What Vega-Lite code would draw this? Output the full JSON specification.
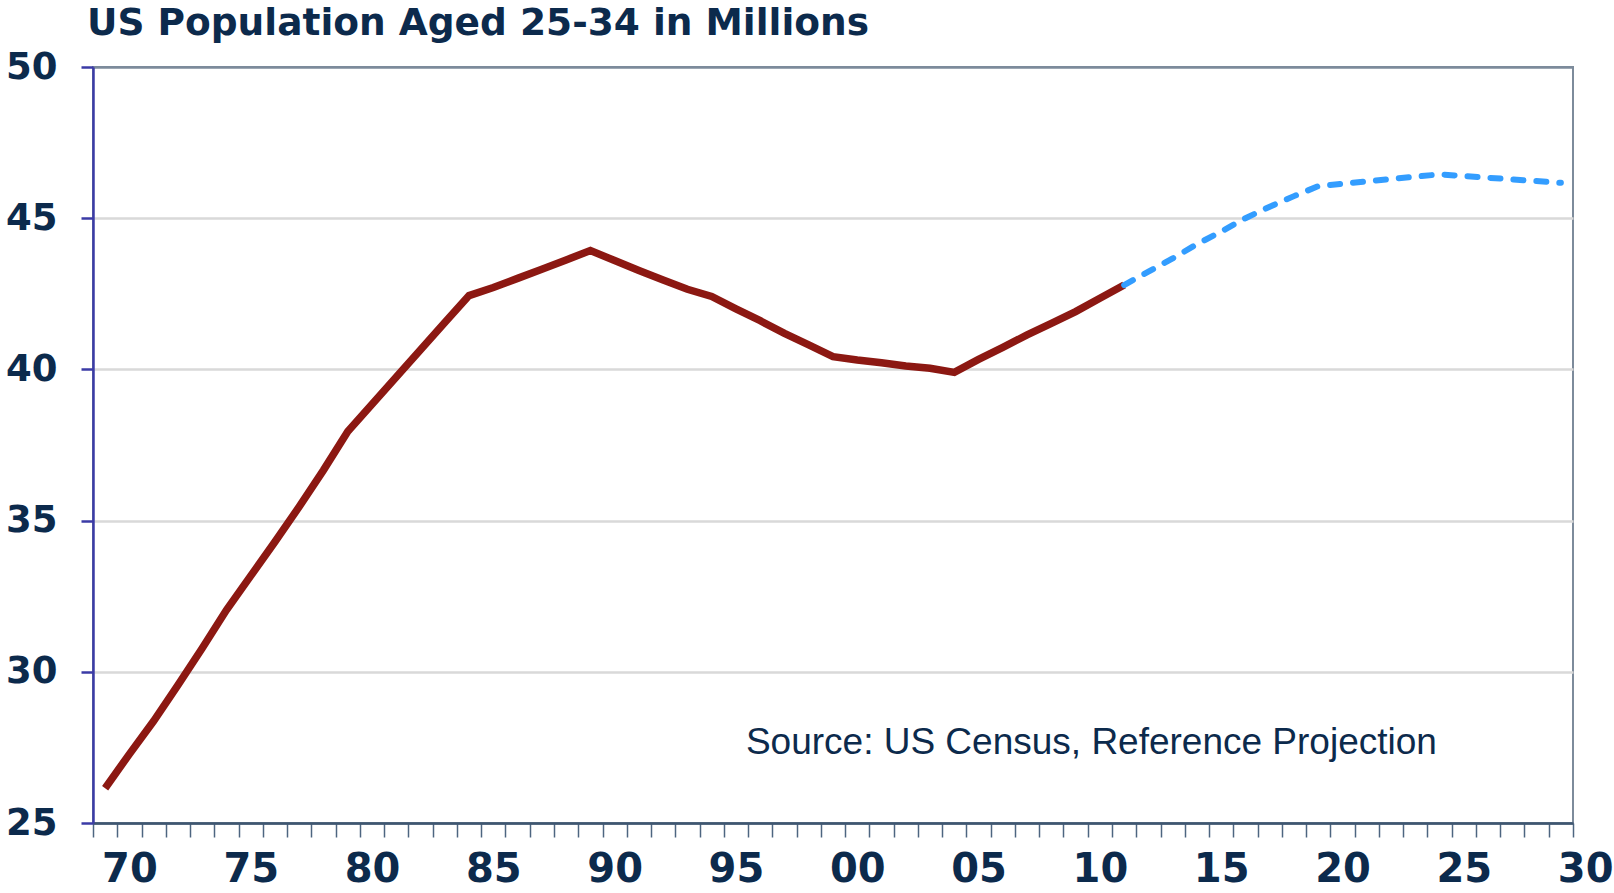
{
  "$schema": "https://vega.github.io/schema/vega-lite/v6.json",
  "width": 1480,
  "height": 756,
  "autosize": {"type": "none"},
  "padding": {"left": 93, "top": 67, "right": 41, "bottom": 70},
  "background": "white",
  "title": {
    "text": "US Population Aged 25-34 in Millions",
    "anchor": "start",
    "frame": "group",
    "font": "DejaVu Sans",
    "fontSize": 37.5,
    "fontWeight": "bold",
    "color": "#0c2a4c",
    "baseline": "alphabetic",
    "dx": -6,
    "offset": -24
  },
  "config": {
    "view": {"stroke": "#7d8b9b", "strokeWidth": 2}
  },
  "datasets": {
    "pop": [
      {"year": 1969, "value": 26.15, "series": "Actual"},
      {"year": 1970, "value": 27.28, "series": "Actual"},
      {"year": 1971, "value": 28.37, "series": "Actual"},
      {"year": 1972, "value": 29.56, "series": "Actual"},
      {"year": 1973, "value": 30.78, "series": "Actual"},
      {"year": 1974, "value": 32.04, "series": "Actual"},
      {"year": 1975, "value": 33.17, "series": "Actual"},
      {"year": 1976, "value": 34.3, "series": "Actual"},
      {"year": 1977, "value": 35.46, "series": "Actual"},
      {"year": 1978, "value": 36.67, "series": "Actual"},
      {"year": 1979, "value": 37.95, "series": "Actual"},
      {"year": 1980, "value": 38.85, "series": "Actual"},
      {"year": 1981, "value": 39.75, "series": "Actual"},
      {"year": 1982, "value": 40.65, "series": "Actual"},
      {"year": 1983, "value": 41.55, "series": "Actual"},
      {"year": 1984, "value": 42.44, "series": "Actual"},
      {"year": 1985, "value": 42.71, "series": "Actual"},
      {"year": 1986, "value": 43.01, "series": "Actual"},
      {"year": 1987, "value": 43.31, "series": "Actual"},
      {"year": 1988, "value": 43.62, "series": "Actual"},
      {"year": 1989, "value": 43.93, "series": "Actual"},
      {"year": 1990, "value": 43.6, "series": "Actual"},
      {"year": 1991, "value": 43.27, "series": "Actual"},
      {"year": 1992, "value": 42.96, "series": "Actual"},
      {"year": 1993, "value": 42.65, "series": "Actual"},
      {"year": 1994, "value": 42.41, "series": "Actual"},
      {"year": 1995, "value": 42.0, "series": "Actual"},
      {"year": 1996, "value": 41.61, "series": "Actual"},
      {"year": 1997, "value": 41.19, "series": "Actual"},
      {"year": 1998, "value": 40.81, "series": "Actual"},
      {"year": 1999, "value": 40.42, "series": "Actual"},
      {"year": 2000, "value": 40.31, "series": "Actual"},
      {"year": 2001, "value": 40.22, "series": "Actual"},
      {"year": 2002, "value": 40.11, "series": "Actual"},
      {"year": 2003, "value": 40.04, "series": "Actual"},
      {"year": 2004, "value": 39.9, "series": "Actual"},
      {"year": 2005, "value": 40.33, "series": "Actual"},
      {"year": 2006, "value": 40.73, "series": "Actual"},
      {"year": 2007, "value": 41.14, "series": "Actual"},
      {"year": 2008, "value": 41.52, "series": "Actual"},
      {"year": 2009, "value": 41.91, "series": "Actual"},
      {"year": 2010, "value": 42.35, "series": "Actual"},
      {"year": 2011, "value": 42.79, "series": "Actual"},
      {"year": 2011, "value": 42.79, "series": "Projection"},
      {"year": 2012, "value": 43.23, "series": "Projection"},
      {"year": 2013, "value": 43.67, "series": "Projection"},
      {"year": 2014, "value": 44.14, "series": "Projection"},
      {"year": 2015, "value": 44.56, "series": "Projection"},
      {"year": 2016, "value": 45.0, "series": "Projection"},
      {"year": 2017, "value": 45.38, "series": "Projection"},
      {"year": 2018, "value": 45.73, "series": "Projection"},
      {"year": 2019, "value": 46.06, "series": "Projection"},
      {"year": 2024, "value": 46.45, "series": "Projection"},
      {"year": 2029, "value": 46.17, "series": "Projection"}
    ],
    "note": [
      {"year": 2009.65, "value": 27.27, "label": "Source: US Census, Reference Projection"}
    ]
  },
  "encoding": {
    "x": {
      "field": "year",
      "type": "quantitative",
      "scale": {"domain": [1968.5, 2029.5], "nice": false, "zero": false},
      "axis": {
        "title": null,
        "grid": false,
        "values": [1968.5,1969.5,1970.5,1971.5,1972.5,1973.5,1974.5,1975.5,1976.5,1977.5,1978.5,1979.5,1980.5,1981.5,1982.5,1983.5,1984.5,1985.5,1986.5,1987.5,1988.5,1989.5,1990.5,1991.5,1992.5,1993.5,1994.5,1995.5,1996.5,1997.5,1998.5,1999.5,2000.5,2001.5,2002.5,2003.5,2004.5,2005.5,2006.5,2007.5,2008.5,2009.5,2010.5,2011.5,2012.5,2013.5,2014.5,2015.5,2016.5,2017.5,2018.5,2019.5,2020.5,2021.5,2022.5,2023.5,2024.5,2025.5,2026.5,2027.5,2028.5,2029.5],
        "labelExpr": "((datum.value + 0.5) % 5 == 0) ? (((datum.value + 0.5) % 100) < 10 ? '0' + ((datum.value + 0.5) % 100) : '' + ((datum.value + 0.5) % 100)) : ''",
        "labelOffset": 12.13,
        "labelFlush": false,
        "labelOverlap": false,
        "labelBound": false,
        "labelFont": "DejaVu Sans",
        "labelFontSize": 40,
        "labelFontWeight": "bold",
        "labelColor": "#0c2a4c",
        "labelPadding": 12,
        "domainColor": "#3e5670",
        "domainWidth": 2.5,
        "tickColor": "#4d6580",
        "tickWidth": 1.5,
        "tickSize": 14
      }
    },
    "y": {
      "field": "value",
      "type": "quantitative",
      "scale": {"domain": [25, 50], "nice": false, "zero": false},
      "axis": {
        "title": null,
        "values": [25, 30, 35, 40, 45, 50],
        "grid": true,
        "gridColor": {"condition": {"test": "datum.value == 50 || datum.value == 25", "value": "#7d8b9b"}, "value": "#d9d9d9"},
        "gridWidth": 2.5,
        "labelFont": "DejaVu Sans",
        "labelFontSize": 37,
        "labelFontWeight": "bold",
        "labelColor": "#0c2a4c",
        "labelPadding": 24,
        "domainColor": "#3b3ba6",
        "domainWidth": 2.5,
        "tickColor": "#3b3ba6",
        "tickWidth": 2.5,
        "tickSize": 12
      }
    }
  },
  "layer": [
    {
      "data": {"name": "pop"},
      "transform": [{"filter": "datum.series == 'Actual'"}],
      "mark": {"type": "line", "color": "#8c1812", "strokeWidth": 7.5}
    },
    {
      "data": {"name": "pop"},
      "transform": [{"filter": "datum.series == 'Projection'"}],
      "mark": {"type": "line", "color": "#339dff", "strokeWidth": 6, "strokeDash": [10, 13], "strokeCap": "round"}
    },
    {
      "data": {"name": "note"},
      "mark": {"type": "text", "font": "Liberation Sans", "fontSize": 37, "color": "#0c2a4c", "align": "center", "baseline": "alphabetic"},
      "encoding": {"text": {"field": "label"}}
    }
  ]
}
